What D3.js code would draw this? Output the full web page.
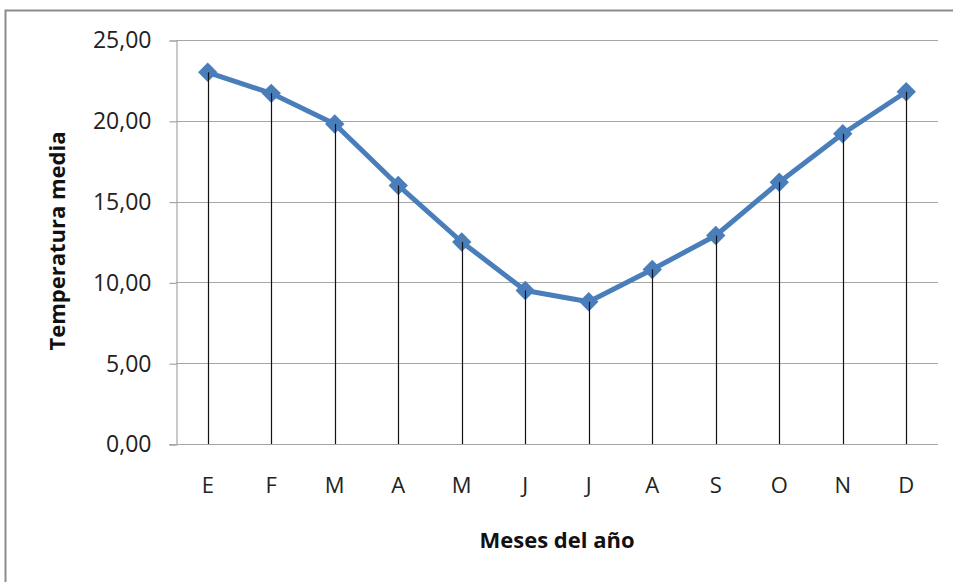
<!DOCTYPE html>
<html>
<head>
<meta charset="utf-8">
<script src="https://cdn.jsdelivr.net/npm/d3@7"></script>
<style>
  html, body { margin: 0; padding: 0; background: #fff; }
  svg { display: block; font-family: "Open Sans", sans-serif; }
</style>
</head>
<body>
<svg id="chart" width="953" height="582"></svg>
<script>
// Monthly mean temperature
const months = ["E", "F", "M", "A", "M", "J", "J", "A", "S", "O", "N", "D"];
const temperatures = [23.0, 21.7, 19.8, 16.0, 12.5, 9.5, 8.8, 10.8, 12.9, 16.2, 19.2, 21.8];
const yTicks = [0, 5, 10, 15, 20, 25];
const yTitle = "Temperatura media";
const xTitle = "Meses del año";

const svg = d3.select("#chart");
const plot = { left: 176, right: 938, top: 40, bottom: 444 };

// Outer chart frame
svg.append("rect")
  .attr("x", 5.5).attr("y", 10.5)
  .attr("width", 960).attr("height", 600)
  .attr("fill", "none").attr("stroke", "#8c8c8c").attr("stroke-width", 2);

const x = d3.scaleBand()
  .domain(d3.range(months.length))
  .range([plot.left, plot.right]);

const y = d3.scaleLinear()
  .domain([0, 25])
  .range([plot.bottom, plot.top]);

// Horizontal gridlines
svg.append("g")
  .selectAll("line")
  .data(yTicks)
  .join("line")
  .attr("x1", plot.left).attr("x2", plot.right)
  .attr("y1", d => Math.round(y(d)) + 0.5).attr("y2", d => Math.round(y(d)) + 0.5)
  .attr("stroke", "#a6a6a6").attr("stroke-width", 1.2);

// Y axis
const yAxis = d3.axisLeft(y)
  .tickValues(yTicks)
  .tickSize(7)
  .tickPadding(18)
  .tickFormat(d => d3.format(".2f")(d).replace(".", ","));

const gy = svg.append("g")
  .attr("transform", `translate(${plot.left + 0.5},0.5)`)
  .call(yAxis);
gy.select(".domain").attr("stroke", "#a6a6a6").attr("stroke-width", 1.2);
gy.selectAll(".tick line").attr("stroke", "#a6a6a6").attr("stroke-width", 1.2);
gy.selectAll(".tick text")
  .attr("fill", "#222")
  .style("font-size", "23px")
  .style("font-family", "'Open Sans', sans-serif");

// X axis (category labels, no tick marks)
const xAxis = d3.axisBottom(x)
  .tickSize(0)
  .tickPadding(33)
  .tickFormat(i => months[i]);

const gx = svg.append("g")
  .attr("transform", `translate(0,${plot.bottom + 0.5})`)
  .call(xAxis);
gx.select(".domain").attr("stroke", "#a6a6a6").attr("stroke-width", 1.2)
  .attr("d", `M${plot.left - 7},0H${plot.right}`);
gx.selectAll(".tick text")
  .attr("fill", "#222")
  .style("font-size", "22px")
  .style("font-family", "'Open Sans', sans-serif");

const cx = i => x(i) + x.bandwidth() / 2;

// Series line
svg.append("path")
  .datum(temperatures)
  .attr("fill", "none")
  .attr("stroke", "#4a7ebb")
  .attr("stroke-width", 5)
  .attr("stroke-linejoin", "round")
  .attr("d", d3.line().x((d, i) => cx(i)).y(d => y(d)));

// Diamond markers
const diamond = d3.symbol().type(d3.symbolDiamond2).size(240);
svg.append("g")
  .selectAll("path")
  .data(temperatures)
  .join("path")
  .attr("transform", (d, i) => `translate(${cx(i)},${y(d)})`)
  .attr("d", diamond)
  .attr("fill", "#4a7ebb");

// Drop lines from each point to the axis
svg.append("g")
  .selectAll("line")
  .data(temperatures)
  .join("line")
  .attr("x1", (d, i) => Math.round(cx(i)) + 0.5)
  .attr("x2", (d, i) => Math.round(cx(i)) + 0.5)
  .attr("y1", d => y(d))
  .attr("y2", plot.bottom)
  .attr("stroke", "#111")
  .attr("stroke-width", 1.2);

// Axis titles
svg.append("text")
  .attr("transform", "translate(65,241) rotate(-90)")
  .attr("text-anchor", "middle")
  .style("font-size", "22px")
  .style("font-weight", "bold")
  .attr("fill", "#111")
  .text(yTitle);

svg.append("text")
  .attr("x", 557).attr("y", 548)
  .attr("text-anchor", "middle")
  .style("font-size", "22px")
  .style("font-weight", "bold")
  .attr("fill", "#111")
  .text(xTitle);
</script>
</body>
</html>
